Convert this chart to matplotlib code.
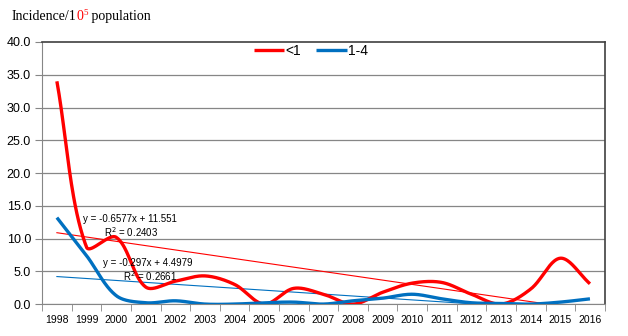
import matplotlib
matplotlib.use('Agg')
import matplotlib.pyplot as plt
import numpy as np

# Daten
years = [str(y) for y in range(1998, 2017)]
under1 = [34.0, 8.7, 10.2, 2.6, 3.5, 4.3, 3.0, 0.0, 2.4, 1.5, 0.0,
          1.8, 3.2, 3.3, 1.5, 0.0, 2.3, 7.0, 3.1]
age1_4 = [13.2, 7.4, 1.3, 0.2, 0.5, 0.0, 0.0, 0.2, 0.3, 0.0, 0.5,
          0.9, 1.5, 0.8, 0.2, 0.1, 0.0, 0.3, 0.8]
# Trendlinien (Excel): Steigung, Achsenabschnitt, R^2
trend_under1 = (-0.6577, 11.551, 0.2403)
trend_1_4 = (-0.297, 4.4979, 0.2661)
yticks = np.arange(0, 40.1, 5)

RED = '#FF0000'
BLUE = '#0070C0'
GRID = '#868686'

# Pixel pro Dateneinheit (fuer die Glaettung)
SX, SY = 29.56, 262 / 40


def smooth(xs, ys, n=40):
    # Excel-artige geglaettete Linie: Bezier, Kontrollpunkte nach Segmentlaenge
    P = np.column_stack([np.asarray(xs, float) * SX, np.asarray(ys, float) * SY])
    k = len(P)
    cout = np.zeros_like(P)
    cin = np.zeros_like(P)
    for i in range(k):
        prev = P[max(i - 1, 0)]
        nxt = P[min(i + 1, k - 1)]
        T = nxt - prev
        lp = np.linalg.norm(P[i] - prev)
        ln = np.linalg.norm(nxt - P[i])
        tot = lp + ln if lp + ln > 0 else 1
        cout[i] = P[i] + T * ln / tot / 3
        cin[i] = P[i] - T * lp / tot / 3
    t = np.linspace(0, 1, n)[:, None]
    pts = []
    for i in range(k - 1):
        b = (1 - t) ** 3 * P[i] + 3 * (1 - t) ** 2 * t * cout[i] \
            + 3 * (1 - t) * t ** 2 * cin[i + 1] + t ** 3 * P[i + 1]
        pts.append(b)
    pts = np.vstack(pts)
    return pts[:, 0] / SX, pts[:, 1] / SY


fig = plt.figure(figsize=(6.28, 3.36), dpi=100)
ax = fig.add_axes([0.067, 0.095, 0.896, 0.78])

x = np.arange(len(years))

# Gitter
for v in yticks[:-1]:
    ax.axhline(v, color=GRID, lw=0.9, zorder=0)

# Trendlinien
xt = np.array([x[0], x[-1]])
for (m, b, r2), col in [(trend_under1, RED), (trend_1_4, BLUE)]:
    ax.plot(xt, m * (xt + 1) + b, color=col, lw=0.8, zorder=2)

sx, sy = smooth(x, under1)
ax.plot(sx, sy, color=RED, lw=2.4, label='<1', zorder=3, solid_capstyle='butt')
sx, sy = smooth(x, age1_4)
ax.plot(sx, sy, color=BLUE, lw=2.4, label='1-4', zorder=3, solid_capstyle='butt')

# Trendgleichungen
fs_eq = 7
ax.text(0.87, 12.98, 'y = -0.6577x + 11.551', fontsize=fs_eq, va='center', family='Liberation Sans')
ax.text(1.59, 11.0, 'R$^2$ = %.4f' % trend_under1[2], fontsize=fs_eq, va='center', family='Liberation Sans')
ax.text(1.56, 6.26, 'y = -0.297x + 4.4979', fontsize=fs_eq, va='center', family='Liberation Sans')
ax.text(2.23, 4.27, 'R$^2$ = %.4f' % trend_1_4[2], fontsize=fs_eq, va='center', family='Liberation Sans')

ax.set_xlim(-0.5, len(years) - 0.5)
ax.set_ylim(0, 40)
ax.set_yticks(yticks)
ax.set_yticklabels(['%.1f' % v for v in yticks], fontsize=9, family='Liberation Sans')
ax.set_xticks(x)
ax.set_xticklabels(years, fontsize=7.5, family='Liberation Sans')
ax.set_xticks(np.arange(-0.5, len(years)), minor=True)
ax.tick_params(axis='x', which='major', length=0, pad=8)
ax.tick_params(axis='x', which='minor', length=5, color=GRID, direction='out')
ax.tick_params(axis='y', length=5, color=GRID, direction='out', pad=3)

for s in ['left', 'bottom']:
    ax.spines[s].set_color(GRID)
for s in ['right', 'top']:
    ax.spines[s].set_color('#404040')
    ax.spines[s].set_linewidth(1.2)

leg = ax.legend(loc='upper center', bbox_to_anchor=(0.478, 1.02), ncol=2, frameon=False,
                fontsize=10, handlelength=2.2, handletextpad=0.1, columnspacing=1.1,
                borderaxespad=0.1)
for t in leg.get_texts():
    t.set_family('Liberation Sans')

# Achsentitel mit farbigem Teil, Stueck fuer Stueck aneinandergehaengt
prev = fig.text(12 / 628, (336 - 20) / 336, 'Incidence/1', color='black', fontsize=10,
                family='Liberation Serif')
parts = [('0', RED, 10, 0), ('5', RED, 6.5, 4), (' population', 'black', 10, -4)]
for txt, col, fs, dy in parts:
    prev = plt.annotate(txt, xy=(1, 0), xycoords=prev, xytext=(0, dy),
                        textcoords='offset points', color=col, fontsize=fs,
                        family='Liberation Serif', va='bottom')

fig.savefig('out.png', dpi=100)
